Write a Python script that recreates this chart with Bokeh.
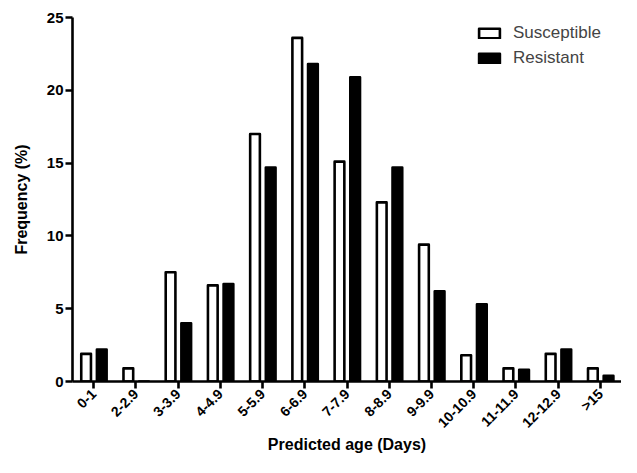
import math
from bokeh.plotting import figure
from bokeh.models import FactorRange, FixedTicker, Legend, LegendItem, ColumnDataSource
from bokeh.transform import dodge
from bokeh.embed import file_html
from bokeh.resources import INLINE

categories = ["0-1", "2-2.9", "3-3.9", "4-4.9", "5-5.9", "6-6.9", "7-7.9",
              "8-8.9", "9-9.9", "10-10.9", "11-11.9", "12-12.9", ">15"]
susceptible = [1.9, 0.9, 7.5, 6.6, 17.0, 23.6, 15.1, 12.3, 9.4, 1.8, 0.9, 1.9, 0.9]
resistant = [2.2, 0.0, 4.0, 6.7, 14.7, 21.8, 20.9, 14.7, 6.2, 5.3, 0.8, 2.2, 0.4]
y_ticks = [0, 5, 10, 15, 20, 25]

src = ColumnDataSource(dict(cat=categories, s=susceptible, r=resistant))

FONT = "Liberation Sans"

p = figure(x_range=FactorRange(factors=categories), y_range=(0, 25),
           width=621, height=457, output_backend="svg", toolbar_location=None,
           min_border_left=72, min_border_right=0, min_border_top=17,
           min_border_bottom=76)

p.xgrid.visible = False
p.ygrid.visible = False
p.outline_line_color = None

r1 = p.vbar(x=dodge("cat", -0.178, range=p.x_range), top="s", width=0.23,
            source=src, fill_color="white", line_color="black",
            line_width=2.6, line_join="round")
r2 = p.vbar(x=dodge("cat", 0.193, range=p.x_range), top="r", width=0.23,
            source=src, fill_color="black", line_color="black",
            line_width=2.6, line_join="round")

for ax in (p.xaxis[0], p.yaxis[0]):
    ax.axis_line_width = 2.6
    ax.axis_line_color = "black"
    ax.major_tick_line_width = 2.6
    ax.major_tick_line_color = "black"
    ax.major_tick_out = 7
    ax.major_tick_in = 0
    ax.minor_tick_line_color = None
    ax.major_label_text_font = FONT
    ax.major_label_text_font_style = "bold"
    ax.major_label_text_font_size = "15px"
    ax.major_label_text_color = "black"
    ax.axis_label_text_font = FONT
    ax.axis_label_text_font_style = "bold"
    ax.axis_label_text_font_size = "16px"
    ax.axis_label_text_color = "black"

p.yaxis.ticker = FixedTicker(ticks=y_ticks)
p.yaxis.axis_label = "Frequency (%)"
p.yaxis.major_label_standoff = 2
p.yaxis.axis_label_standoff = 14
p.xaxis.axis_label = "Predicted age (Days)"
p.xaxis.major_label_orientation = math.pi / 4
p.xaxis.major_label_standoff = 3
p.xaxis.axis_label_standoff = -3
p.xaxis.major_label_text_font_size = "14px"

legend = Legend(items=[LegendItem(label="Susceptible", renderers=[r1]),
                       LegendItem(label="Resistant", renderers=[r2])],
                location=(404, 313))
legend.background_fill_alpha = 0
legend.border_line_color = None
legend.padding = 0
legend.margin = 0
legend.spacing = 5
legend.glyph_width = 26
legend.glyph_height = 12
legend.label_text_font = FONT
legend.label_text_font_size = "17px"
legend.label_standoff = 11
p.add_layout(legend)

open("out.html", "w").write(file_html(p, INLINE))
